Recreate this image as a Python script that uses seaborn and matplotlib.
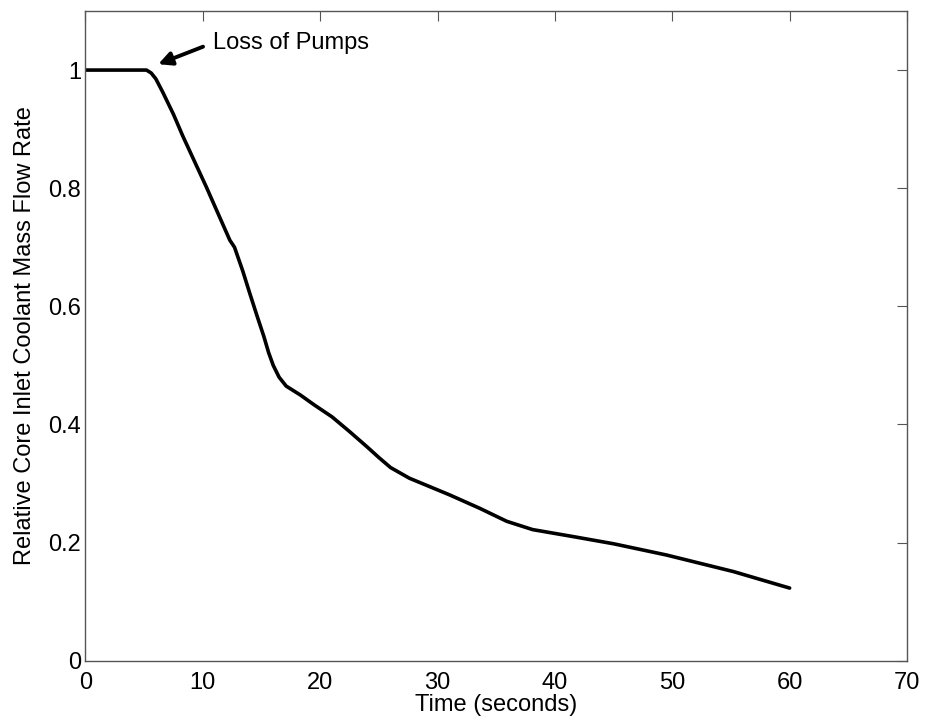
import matplotlib

matplotlib.use("Agg")
import matplotlib.pyplot as plt
import pandas as pd
import seaborn as sns

# values
time_s = [0, 2, 4, 5.2, 5.6, 6.0, 6.6, 7.5, 8.3, 9.3, 10.3, 11.3, 12.3, 12.7,
          13.4, 14.0, 14.6, 15.2, 15.6, 16.0, 16.5, 17.1, 18.3, 19.5, 21.0,
          22.5, 24.0, 25.0, 26.0, 27.6, 29.3, 31.0, 33.6, 35.9, 38.1, 41.6,
          45.0, 49.5, 55.2, 60.0]
flow_rate = [1.0, 1.0, 1.0, 1.0, 0.995, 0.985, 0.962, 0.925, 0.888, 0.845,
             0.802, 0.757, 0.712, 0.700, 0.660, 0.622, 0.585, 0.549, 0.522,
             0.500, 0.480, 0.465, 0.450, 0.433, 0.413, 0.388, 0.362, 0.344,
             0.327, 0.309, 0.295, 0.281, 0.258, 0.236, 0.222, 0.210, 0.198,
             0.179, 0.151, 0.123]

x_ticks = [0, 10, 20, 30, 40, 50, 60, 70]
y_ticks = [0, 0.2, 0.4, 0.6, 0.8, 1]
y_tick_labels = ["0", "0.2", "0.4", "0.6", "0.8", "1"]

sns.set_style("white")
plt.rcParams["font.family"] = ["Liberation Sans", "DejaVu Sans"]
plt.rcParams["xtick.direction"] = "in"
plt.rcParams["ytick.direction"] = "in"
plt.rcParams["text.color"] = "black"
plt.rcParams["axes.labelcolor"] = "black"
plt.rcParams["xtick.labelcolor"] = "black"
plt.rcParams["ytick.labelcolor"] = "black"

df = pd.DataFrame({"time": time_s, "flow": flow_rate})

fig = plt.figure(figsize=(9.27, 7.24), dpi=100)
ax = fig.add_axes([0.0922, 0.0874, 0.8862, 0.8974])
sns.lineplot(data=df, x="time", y="flow", ax=ax, color="black", linewidth=2.6)

ax.set_xlim(0, 70)
ax.set_ylim(0, 1.1)
ax.set_xticks(x_ticks)
ax.set_yticks(y_ticks)
ax.set_yticklabels(y_tick_labels)
ax.tick_params(axis="both", which="both", labelsize=17, length=7, width=0.8,
               color="#555555", top=True, right=True)
ax.tick_params(axis="x", pad=8)
ax.tick_params(axis="y", pad=3)
for sp in ax.spines.values():
    sp.set_color("#555555")
    sp.set_linewidth(1.0)

ax.set_xlabel("Time (seconds)", fontsize=17, labelpad=0)
ax.set_ylabel("Relative Core Inlet Coolant Mass Flow Rate", fontsize=17, labelpad=9)

ax.annotate("Loss of Pumps", xy=(6.2, 1.01), xytext=(10.85, 1.046),
            fontsize=17, va="center", ha="left",
            arrowprops=dict(arrowstyle="-|>", color="black", lw=2.8,
                            mutation_scale=20, relpos=(0, 0.5),
                            shrinkA=5, shrinkB=0))

fig.savefig("out.png", dpi=100)
